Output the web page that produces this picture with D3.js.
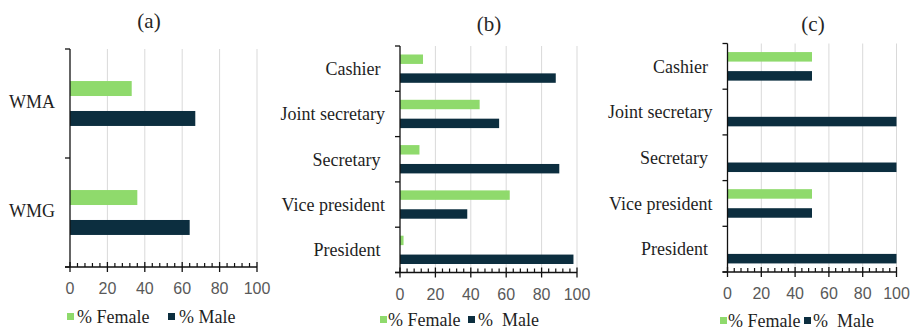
<!DOCTYPE html>
<html>
<head>
<meta charset="utf-8">
<script src="https://cdn.jsdelivr.net/npm/d3@7"></script>
<style>
  html, body { margin: 0; padding: 0; background: #fff; }
  svg { display: block; }
  .lbl { white-space: pre; }
  .serif { font-family: "Liberation Serif", "Times New Roman", "DejaVu Serif", serif; }
  .sans { font-family: "Liberation Sans", Arial, sans-serif; }
</style>
</head>
<body>
<svg id="chart" width="916" height="333"></svg>
<script>
// ---------- data ----------
const seriesNames = ["% Female", "% Male"];
const seriesNamesB = ["% Female", "%  Male"];
const ticksX = [0, 20, 40, 60, 80, 100];

const catsA = ["WMA", "WMG"];
const femaleA = [33, 36];
const maleA = [67, 64];

const catsB = ["Cashier ", "Joint secretary", "Secretary ", "Vice president", "President "];
const femaleB = [13, 45, 11, 62, 2];
const maleB = [88, 56, 90, 38, 98];

const catsC = ["Cashier ", "Joint secretary", "Secretary ", "Vice president", "President "];
const femaleC = [50, 0, 0, 50, 0];
const maleC = [50, 100, 100, 50, 100];

// ---------- style ----------
const GREEN = "#8fda6c";
const NAVY = "#0c2e3f";
const GRID = "#d9d9d9";
const AXIS = "#111";

const svg = d3.select("#chart");

function panel(cfg) {
  const g = svg.append("g");
  const x = d3.scaleLinear().domain([0, 100]).range([cfg.x0, cfg.x1]);
  const y = d3.scaleBand().domain(cfg.cats).range([cfg.top, cfg.bottom]).padding(0);
  const inner = d3.scaleBand().domain(["f", "m"]).range([0, y.bandwidth()])
    .paddingInner(0.5).paddingOuter(cfg.outer);

  // gridlines
  g.append("g").selectAll("line").data(ticksX.filter(d => d > 0)).join("line")
    .attr("x1", d => x(d)).attr("x2", d => x(d))
    .attr("y1", cfg.top).attr("y2", cfg.bottom)
    .attr("stroke", GRID).attr("stroke-width", 1);

  // bars
  const rows = cfg.cats.map((c, i) => ({ c, f: cfg.female[i], m: cfg.male[i] }));
  const bars = g.append("g");
  bars.selectAll("rect.f").data(rows).join("rect").attr("class", "f")
    .attr("x", x(0)).attr("y", d => y(d.c) + inner("f"))
    .attr("width", d => x(d.f) - x(0)).attr("height", inner.bandwidth())
    .attr("fill", GREEN);
  bars.selectAll("rect.m").data(rows).join("rect").attr("class", "m")
    .attr("x", x(0)).attr("y", d => y(d.c) + inner("m"))
    .attr("width", d => x(d.m) - x(0)).attr("height", inner.bandwidth())
    .attr("fill", NAVY);

  // y axis line and boundary ticks
  const ya = g.append("g").attr("stroke", AXIS).attr("stroke-width", 1.3);
  ya.append("line").attr("x1", x(0)).attr("x2", x(0)).attr("y1", cfg.top).attr("y2", cfg.bottom);
  const bounds = cfg.cats.map(c => y(c)).concat([cfg.bottom]);
  ya.selectAll("line.t").data(bounds).join("line").attr("class", "t")
    .attr("x1", x(0) - 5).attr("x2", x(0)).attr("y1", d => d).attr("y2", d => d);

  // y labels
  g.append("g").selectAll("text").data(cfg.cats).join("text").attr("class", "lbl serif")
    .attr("x", x(0) - 15).attr("y", d => y(d) + y.bandwidth() / 2 + (cfg.labelDy || 0))
    .attr("dy", "0.35em").attr("text-anchor", "end")
    .attr("font-size", 18).attr("fill", "#1f1f1f")
    .text(d => d);

  // x axis
  const xa = g.append("g").attr("stroke", AXIS).attr("stroke-width", 1.3);
  xa.append("line").attr("x1", x(0) - 5).attr("x2", x(100)).attr("y1", cfg.bottom).attr("y2", cfg.bottom);
  xa.selectAll("line.maj").data(ticksX).join("line").attr("class", "maj")
    .attr("x1", d => x(d)).attr("x2", d => x(d))
    .attr("y1", cfg.bottom - 5).attr("y2", cfg.bottom + 5);
  const minor = d3.range(0, 100, 4).filter(d => d % 20 !== 0);
  xa.selectAll("line.min").data(minor).join("line").attr("class", "min")
    .attr("stroke-width", 1.2)
    .attr("x1", d => x(d)).attr("x2", d => x(d))
    .attr("y1", cfg.bottom - 4).attr("y2", cfg.bottom);

  g.append("g").selectAll("text").data(ticksX).join("text").attr("class", "sans")
    .attr("x", d => x(d)).attr("y", cfg.bottom + 27)
    .attr("text-anchor", "middle").attr("font-size", 16)
    .attr("fill", "#595959").text(d => d);

  // title
  g.append("text").attr("class", "serif").attr("x", cfg.titleX).attr("y", cfg.titleY)
    .attr("text-anchor", "middle").attr("font-size", 21)
    .attr("fill", "#262626").text(cfg.title);

  // legend
  const lg = g.append("g");
  const items = [
    { name: cfg.names[0], color: GREEN, sx: cfg.leg[0], tx: cfg.leg[1] },
    { name: cfg.names[1], color: NAVY, sx: cfg.leg[2], tx: cfg.leg[3] }
  ];
  lg.selectAll("rect").data(items).join("rect")
    .attr("x", d => d.sx).attr("y", cfg.legY - 4).attr("width", 7).attr("height", 7)
    .attr("fill", d => d.color);
  lg.selectAll("text").data(items).join("text").attr("class", "lbl serif")
    .attr("x", d => d.tx).attr("y", cfg.legY).attr("dy", "0.35em")
    .attr("font-size", 18).attr("fill", "#1f1f1f")
    .text(d => d.name);
}

panel({ cats: catsA, female: femaleA, male: maleA, x0: 70, x1: 257, top: 49, bottom: 267,
        outer: 1.07, title: "(a)", titleX: 149, titleY: 28, names: seriesNames,
        leg: [67, 77, 168, 179], legY: 317, labelDy: -2 });
panel({ cats: catsB, female: femaleB, male: maleB, x0: 400, x1: 577, top: 46, bottom: 272.5,
        outer: 0.45, title: "(b)", titleX: 489, titleY: 31, names: seriesNamesB,
        leg: [380, 388, 468, 478], legY: 320 });
panel({ cats: catsC, female: femaleC, male: maleC, x0: 727.5, x1: 896.5, top: 43.5, bottom: 272,
        outer: 0.45, title: "(c)", titleX: 813, titleY: 31, names: seriesNamesB,
        leg: [720, 728, 804, 813], legY: 321 });
</script>
</body>
</html>
